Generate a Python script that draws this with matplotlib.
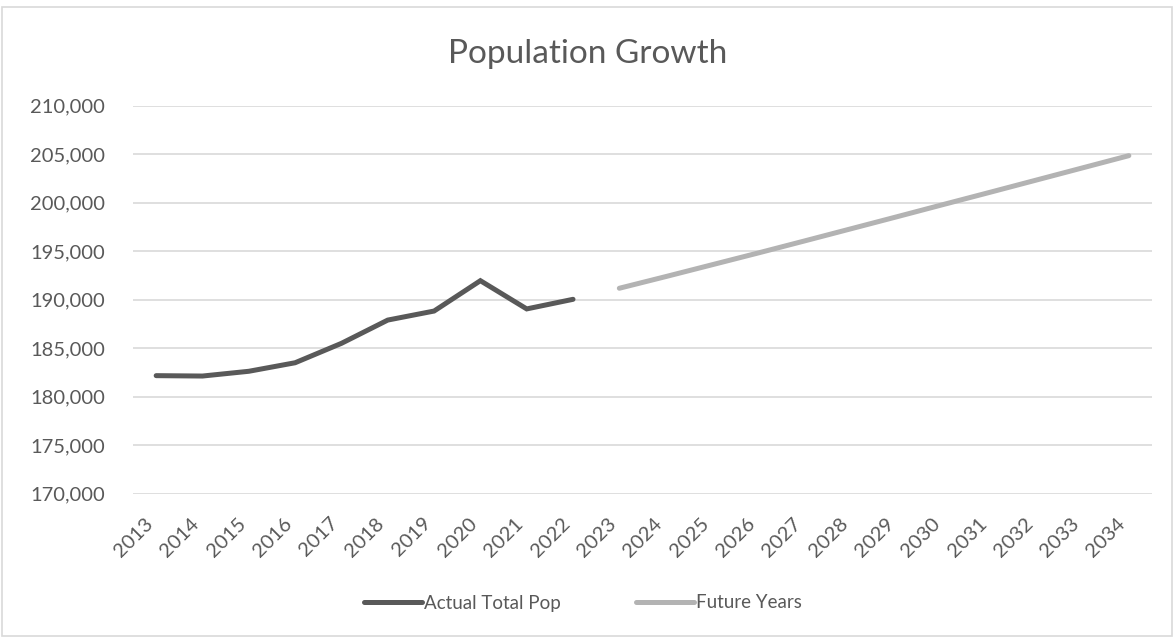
import matplotlib
matplotlib.use('Agg')
import matplotlib.pyplot as plt
from matplotlib.patches import Rectangle
from matplotlib.ticker import FuncFormatter

# Datos
years = [str(y) for y in range(2013, 2035)]
actual_years = years[:10]
actual_pop = [182170, 182130, 182620, 183500, 185500,
              187900, 188830, 191960, 189050, 190040]
future_years = years[10:]
future_pop = [191180, 192380, 193600, 194820, 196060, 197310,
              198560, 199820, 201070, 202330, 203590, 204850]

plt.rcParams['font.family'] = ['Lato', 'DejaVu Sans']
text_color = '#595959'

fig = plt.figure(figsize=(11.75, 6.39), dpi=100)
ax = fig.add_axes([133 / 1175, 1 - 493.7 / 639, (1152 - 133) / 1175, (493.7 - 105.7) / 639])

x_pos = {y: i for i, y in enumerate(years)}
ax.plot([x_pos[y] for y in actual_years], actual_pop, color='#595959', lw=3.6,
        solid_capstyle='round', solid_joinstyle='miter', label='Actual Total Pop')
ax.plot([x_pos[y] for y in future_years], future_pop, color='#b3b3b3', lw=3.6,
        solid_capstyle='round', label='Future Years')

ax.set_xlim(-0.5, len(years) - 0.5)
ax.set_ylim(170000, 210000)
ax.set_yticks(range(170000, 210001, 5000))
ax.yaxis.set_major_formatter(FuncFormatter(lambda v, p: f'{int(v):,}'))
ax.set_xticks(range(len(years)))
ax.set_xticklabels(years, rotation=45, ha='right', va='top')

ax.grid(axis='y', color='#d9d9d9', lw=1.2)
ax.set_axisbelow(True)
for s in ax.spines.values():
    s.set_visible(False)
ax.tick_params(axis='both', length=0, labelsize=14.5, colors=text_color)
ax.tick_params(axis='y', pad=20)
ax.tick_params(axis='x', pad=15)

fig.text(0.5, 1 - 54 / 639, 'Population Growth', ha='center', va='center',
         fontsize=24, color=text_color)

leg = fig.legend(loc='center', bbox_to_anchor=(0.496, 1 - 603 / 639), ncol=2,
                 frameon=False, fontsize=13.5, handlelength=3.1, handletextpad=0.1,
                 columnspacing=4.0)
for t in leg.get_texts():
    t.set_color(text_color)

# Borde del gráfico
fig.patches.append(Rectangle((2 / 1175, 3 / 639), 1170 / 1175, 629 / 639,
                             transform=fig.transFigure, fill=False,
                             edgecolor='#d9d9d9', lw=1.2))

fig.savefig('out.png', dpi=100)
